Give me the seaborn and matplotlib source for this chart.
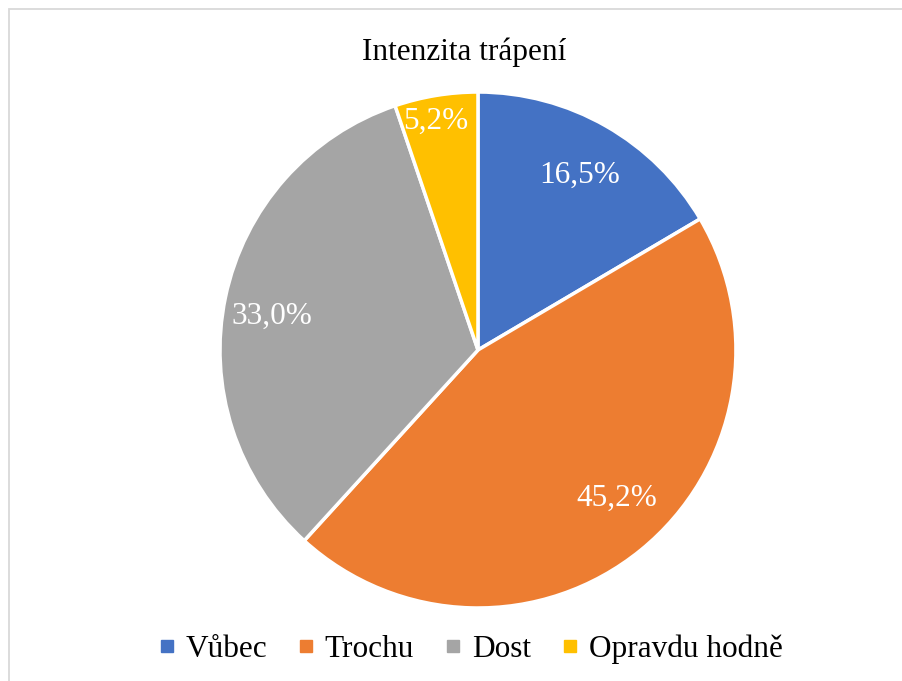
import numpy as np
import matplotlib
matplotlib.use("Agg")
import matplotlib.pyplot as plt
import seaborn as sns
from matplotlib.lines import Line2D
from matplotlib.patches import Rectangle

categories = ["Vůbec", "Trochu", "Dost", "Opravdu hodně"]
values = [16.5, 45.2, 33.0, 5.2]
labels = ["16,5%", "45,2%", "33,0%", "5,2%"]
colors = ["#4472C4", "#ED7D31", "#A5A5A5", "#FFC000"]
label_dist = [0.785, 0.785, 0.81, 0.90]
label_rot = [-0.5, 4.0, 2.5, 1.0]
title = "Intenzita trápení"

sns.set_style("white")
plt.rcParams["font.family"] = ["Liberation Serif", "DejaVu Serif"]
plt.rcParams["text.color"] = "black"

fig = plt.figure(figsize=(9.02, 6.81), dpi=100)
fig.patches.append(Rectangle((9 / 902, -0.1), 1.2, (681 - 9) / 681 + 0.1,
                             transform=fig.transFigure, fill=False,
                             edgecolor="#D9D9D9", linewidth=1.3))

ax = fig.add_axes([0.2439, 0.1072, 0.572, 0.7577])
wedges, _ = ax.pie(values, colors=colors, startangle=90, counterclock=False,
                   radius=1.0, wedgeprops=dict(edgecolor="white", linewidth=2.5))
for w, lab, d, r in zip(wedges, labels, label_dist, label_rot):
    ang = np.deg2rad((w.theta1 + w.theta2) / 2 + r)
    ax.text(d * np.cos(ang), d * np.sin(ang), lab, ha="center", va="center",
            color="white", fontsize=22.5)
ax.set_xlim(-1, 1)
ax.set_ylim(-1, 1)
ax.set_aspect("equal")
ax.axis("off")

fig.text(0.515, 1 - 52 / 681, title, ha="center", va="center", fontsize=22.5,
         color="black")

handles = [Line2D([0], [0], marker="s", linestyle="none", markersize=8,
                  markerfacecolor=c, markeredgecolor=c) for c in colors]
fig.legend(handles, categories, loc="center", bbox_to_anchor=(0.521, 1 - 649 / 681),
           ncol=4, frameon=False, fontsize=22.5, handlelength=0.6,
           handletextpad=0.3, columnspacing=0.95, labelcolor="black")

fig.savefig("out.png", dpi=100)
